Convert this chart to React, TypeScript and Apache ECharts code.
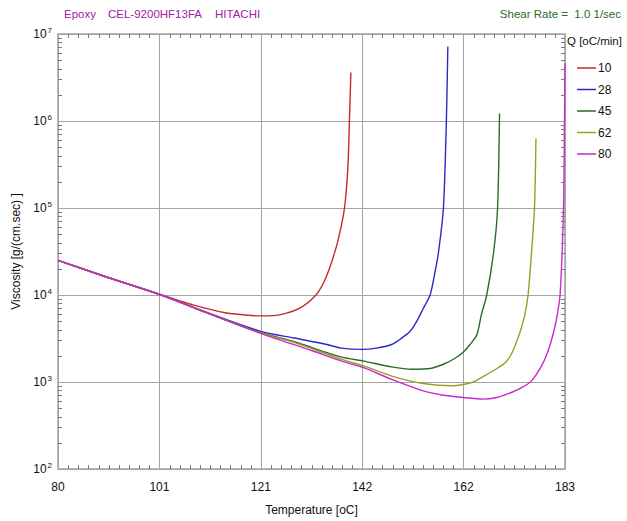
import React, { useEffect, useRef } from 'react';
import * as echarts from 'echarts';

const X_MIN = 80;
const X_MAX = 183;
const X_STEP = 20.6;
const Y_MIN = 100;
const Y_MAX = 1e7;

const seriesNames = ['10', '28', '45', '62', '80'];
const seriesColors = ['#c42a2a', '#2a2ac4', '#2a6a2a', '#9c9c2a', '#c82ac8'];

const temp10 = [80, 90, 101, 107.4, 114.3, 118, 121.5, 125, 129.2, 132.4, 134, 135.6, 137, 138.2, 138.9, 139.2, 139.5];
const visc10 = [2.5e4, 1.6e4, 1.0e4, 7.7e3, 6.2e3, 5.9e3, 5.75e3, 5.9e3, 7.1e3, 1.0e4, 1.4e4, 2.4e4, 4.5e4, 1.0e5, 3.0e5, 1.0e6, 3.6e6];

const temp28 = [80, 90, 101, 110, 121, 128, 134.6, 137.6, 141.7, 144.7, 147.8, 149.5, 151.5, 152.9, 154.2, 155.6, 156.6, 157.3, 158.3, 158.9, 159.2];
const visc28 = [2.5e4, 1.6e4, 1.0e4, 6.4e3, 3.85e3, 3.2e3, 2.7e3, 2.45e3, 2.37e3, 2.45e3, 2.7e3, 3.1e3, 3.8e3, 5.0e3, 7.0e3, 1.0e4, 1.85e4, 3.1e4, 1.0e5, 1.0e6, 7.2e6];

const temp45 = [80, 90, 101, 110, 121, 128, 137.6, 142.1, 147.8, 151.9, 155.6, 158.3, 160.5, 162.2, 163.7, 165.1, 166.0, 167.1, 168.5, 169.3, 169.7];
const visc45 = [2.5e4, 1.6e4, 1.0e4, 6.3e3, 3.72e3, 2.9e3, 1.93e3, 1.74e3, 1.49e3, 1.40e3, 1.43e3, 1.6e3, 1.85e3, 2.17e3, 2.7e3, 3.5e3, 5.9e3, 1.0e4, 3.1e4, 1.0e5, 1.22e6];

const temp62 = [80, 90, 101, 110, 121, 128, 137.6, 142.1, 147.8, 154.2, 160.3, 164.4, 165.7, 169.1, 171, 172.3, 173.2, 173.9, 174.8, 175.5, 176.2, 176.8, 177.1];
const visc62 = [2.5e4, 1.6e4, 1.0e4, 6.3e3, 3.68e3, 2.85e3, 1.82e3, 1.53e3, 1.17e3, 960, 905, 1.0e3, 1.1e3, 1.42e3, 1.7e3, 2.2e3, 2.95e3, 3.8e3, 5.8e3, 1.0e4, 3.1e4, 1.0e5, 6.3e5];

const temp80 = [80, 90, 101, 110, 121, 131.5, 137.6, 142.1, 147.8, 154.2, 158, 162.3, 166.4, 169, 171.2, 174.2, 176.2, 178, 179.3, 180.5, 181.3, 182, 182.7, 182.9, 183];
const visc80 = [2.5e4, 1.6e4, 1.0e4, 6.3e3, 3.65e3, 2.3e3, 1.74e3, 1.46e3, 1.07e3, 790, 710, 664, 635, 660, 724, 863, 1.03e3, 1.45e3, 2.07e3, 3.4e3, 5.4e3, 1.0e4, 1.0e5, 1.0e6, 4.6e6];

const temps = [temp10, temp28, temp45, temp62, temp80];
const viscs = [visc10, visc28, visc45, visc62, visc80];

const FONT = 'Liberation Sans, Arial, sans-serif';
const GRID_COLOR = '#a4a4a4';
const TICK_COLOR = '#7a7a7a';

export default function App() {
  const ref = useRef<HTMLDivElement>(null);
  useEffect(() => {
    if (!ref.current) return;
    const chart = echarts.init(ref.current, null, { renderer: 'svg' });
    const span = X_MAX - X_MIN;

    // minor tick values (axis decoration): log ticks 2..9 x 10^e, linear ticks every tenth of a division
    const yMinor: number[] = [];
    for (let e = 2; e < 7; e++) for (let k = 2; k <= 9; k++) yMinor.push(k * Math.pow(10, e));
    const xMinor: number[] = [];
    for (let d = 0; d < 5; d++) for (let k = 1; k <= 9; k++) xMinor.push((d + k / 10) * X_STEP);

    const lineSeries = seriesNames.map((name, i) => ({
      name,
      type: 'line',
      data: temps[i].map((t, j) => [t - X_MIN, viscs[i][j]]),
      showSymbol: false,
      symbol: 'none',
      smooth: 0.25,
      lineStyle: { color: seriesColors[i], width: 1.4 },
      itemStyle: { color: seriesColors[i] },
      z: 3,
    }));

    const yTicks = (atX: number, dir: number) => ({
      type: 'custom',
      renderItem: (_p: any, api: any) => {
        const p = api.coord([api.value(0), api.value(1)]);
        const y = Math.round(p[1]) + 0.5;
        return {
          type: 'line',
          shape: { x1: p[0], y1: y, x2: p[0] + dir * 4, y2: y },
          style: { stroke: TICK_COLOR, lineWidth: 1 },
        };
      },
      data: yMinor.map((v) => [atX, v]),
      z: 10,
    });

    const xTicks = (atY: number, dir: number) => ({
      type: 'custom',
      renderItem: (_p: any, api: any) => {
        const p = api.coord([api.value(0), api.value(1)]);
        const x = Math.round(p[0]) + 0.5;
        return {
          type: 'line',
          shape: { x1: x, y1: p[1], x2: x, y2: p[1] + dir * 4 },
          style: { stroke: TICK_COLOR, lineWidth: 1 },
        };
      },
      data: xMinor.map((x) => [x, atY]),
      z: 10,
    });

    const option: any = {
      animation: false,
      grid: {
        left: 58,
        right: 62,
        top: 34,
        bottom: 49,
        show: true,
        borderColor: GRID_COLOR,
        borderWidth: 1.5,
        backgroundColor: 'transparent',
      },
      legend: {
        data: seriesNames,
        orient: 'vertical',
        left: 572,
        top: 56,
        icon: 'rect',
        itemWidth: 19,
        itemHeight: 1.5,
        itemGap: 7.5,
        textStyle: { fontSize: 12, color: '#111', lineHeight: 14, fontFamily: FONT, padding: [0, 0, 0, -3] },
        selectedMode: false,
      },
      xAxis: {
        type: 'value',
        min: 0,
        max: span,
        interval: X_STEP,
        axisLine: { show: false },
        axisTick: { show: false },
        name: 'Temperature [oC]',
        nameLocation: 'middle',
        nameGap: 35,
        nameTextStyle: { fontSize: 12, color: '#111', fontFamily: FONT },
        axisLabel: {
          fontSize: 12,
          color: '#111',
          fontFamily: FONT,
          margin: 12,
          formatter: (v: number) => String(Math.round(v + X_MIN)),
        },
        splitLine: { show: true, lineStyle: { color: GRID_COLOR, width: 1 } },
      },
      yAxis: {
        type: 'log',
        logBase: 10,
        min: Y_MIN,
        max: Y_MAX,
        axisLine: { show: false },
        axisTick: { show: false },
        splitLine: { show: true, lineStyle: { color: GRID_COLOR, width: 1 } },
        name: 'Viscosity [g/(cm.sec) ]',
        nameLocation: 'middle',
        nameGap: 29,
        nameTextStyle: { fontSize: 12, color: '#111', fontFamily: FONT },
        axisLabel: {
          margin: 6,
          color: '#111',
          formatter: (v: number) => `{b|10}{s|${Math.round(Math.log10(v))}}`,
          rich: {
            b: { fontSize: 12, color: '#111', fontFamily: FONT },
            s: { fontSize: 8, color: '#111', fontFamily: FONT, padding: [0, 0, 8, 1] },
          },
        },
      },
      graphic: [
        { type: 'text', left: 64, top: 8, style: { text: 'Epoxy', fontSize: 11.5, fill: '#a020a0', fontFamily: FONT } },
        { type: 'text', left: 108, top: 8, style: { text: 'CEL-9200HF13FA', fontSize: 11.5, fill: '#a020a0', fontFamily: FONT } },
        { type: 'text', left: 215, top: 8, style: { text: 'HITACHI', fontSize: 11.5, fill: '#a020a0', fontFamily: FONT } },
        { type: 'text', right: 6, top: 8, style: { text: 'Shear Rate =  1.0 1/sec', fontSize: 11.5, fill: '#2a6a2a', fontFamily: FONT } },
        { type: 'text', left: 567, top: 35, style: { text: 'Q [oC/min]', fontSize: 11.5, fill: '#111', fontFamily: FONT } },
      ],
      series: [
        ...lineSeries,
        yTicks(0, 1),
        yTicks(span, -1),
        xTicks(Y_MIN, -1),
        xTicks(Y_MAX, 1),
      ],
    };
    chart.setOption(option);
    return () => chart.dispose();
  }, []);
  return (
    <div
      ref={ref}
      style={{ position: 'fixed', left: 0, top: 0, width: 627, height: 521, background: '#fff' }}
    />
  );
}
